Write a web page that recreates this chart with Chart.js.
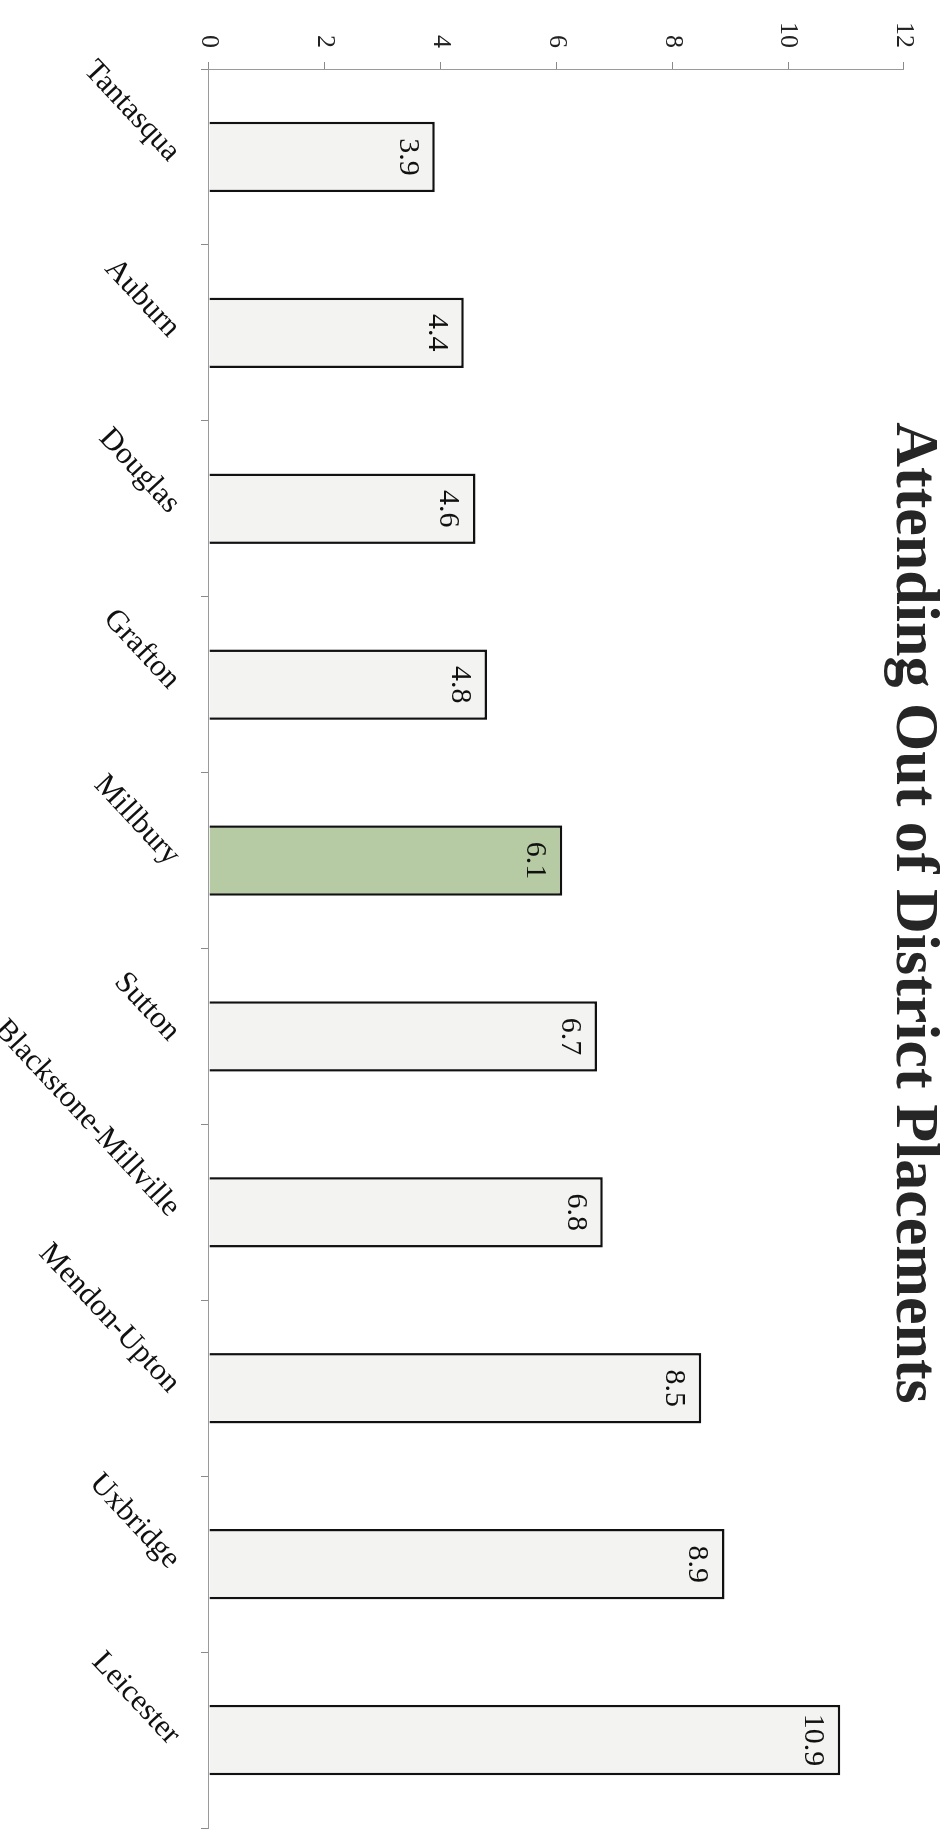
<!DOCTYPE html>
<html><head><meta charset="utf-8">
<script src="https://cdn.jsdelivr.net/npm/chart.js@4/dist/chart.umd.min.js"></script>
<style>
html,body{margin:0;padding:0;background:#fff;overflow:hidden;width:940px;height:1839px;}
#wrap{position:absolute;left:0;top:0;width:1839px;height:940px;transform-origin:0 0;transform:translate(940px,0) rotate(90deg);background:#fff;}
canvas{display:block;}
</style></head><body>
<div id="wrap"><canvas id="c" width="1839" height="940"></canvas></div>
<script>
const categories = ["Tantasqua","Auburn","Douglas","Grafton","Millbury","Sutton","Blackstone-Millville","Mendon-Upton","Uxbridge","Leicester"];
const values = [3.9, 4.4, 4.6, 4.8, 6.1, 6.7, 6.8, 8.5, 8.9, 10.9];
const valueTicks = [0, 2, 4, 6, 8, 10, 12];
const highlightCategory = "Millbury";
const titleText = "Attending Out of District Placements";

const barFill = categories.map(c => c === highlightCategory ? '#b6cba3' : '#f3f3f1');

const valueLabels = {
  id: 'valueLabels',
  afterDatasetsDraw(chart) {
    const ctx = chart.ctx;
    const meta = chart.getDatasetMeta(0);
    ctx.save();
    ctx.font = '30px "Liberation Serif"';
    ctx.fillStyle = '#111';
    ctx.textAlign = 'center';
    ctx.textBaseline = 'alphabetic';
    meta.data.forEach((el, i) => {
      ctx.fillText(values[i].toFixed(1), el.x, el.y + 35);
    });
    ctx.restore();
  }
};

const sideTitle = {
  id: 'sideTitle',
  afterDraw(chart) {
    const ctx = chart.ctx;
    ctx.save();
    ctx.font = 'bold 62px "Liberation Serif"';
    ctx.fillStyle = '#262626';
    ctx.textAlign = 'center';
    ctx.textBaseline = 'alphabetic';
    ctx.fillText(titleText, 913, 43);
    ctx.restore();
  }
};

new Chart(document.getElementById('c'), {
  type: 'bar',
  data: {
    labels: categories,
    datasets: [{
      data: values,
      backgroundColor: barFill,
      borderColor: '#111',
      borderWidth: 2.5,
      categoryPercentage: 0.8,
      barPercentage: 0.5
    }]
  },
  options: {
    responsive: false,
    animation: false,
    devicePixelRatio: 1,
    layout: { padding: { top: 36, right: 11, left: 0, bottom: 0 } },
    plugins: { legend: { display: false }, tooltip: { enabled: false }, title: { display: false } },
    scales: {
      x: {
        type: 'category',
        offset: true,
        grid: { display: true, drawOnChartArea: false, drawTicks: true, tickLength: 8, offset: true, color: '#8a8a8a' },
        border: { display: true, color: '#9a9a9a', width: 1 },
        ticks: { minRotation: 43, maxRotation: 43, autoSkip: false, font: { family: 'Liberation Serif', size: 31 }, color: '#111', padding: 13 },
        afterFit(s) { s.height = 209; }
      },
      y: {
        min: 0, max: 12,
        afterBuildTicks(s) { s.ticks = valueTicks.map(v => ({ value: v })); },
        ticks: { font: { family: 'Liberation Serif', size: 26 }, color: '#222', padding: 14 },
        grid: { drawOnChartArea: false, drawTicks: true, tickLength: 7, color: '#8a8a8a' },
        border: { display: true, color: '#9a9a9a', width: 1 },
        afterFit(s) { s.width = 69; }
      }
    }
  },
  plugins: [valueLabels, sideTitle]
});
</script>
</body></html>
